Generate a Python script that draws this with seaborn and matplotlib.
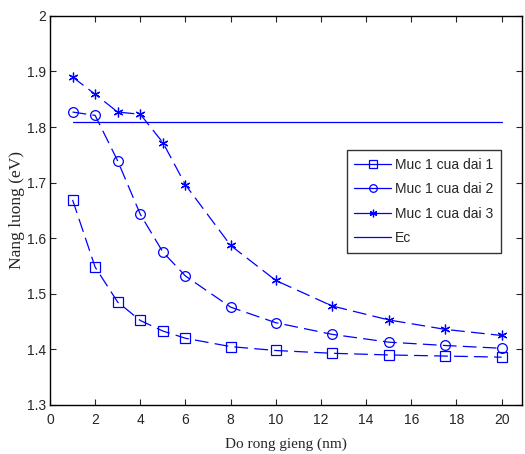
import matplotlib
matplotlib.use("Agg")
import matplotlib.pyplot as plt
import seaborn as sns
import pandas as pd
import numpy as np

# well width (nm)
width = [1, 2, 3, 4, 5, 6, 8, 10, 12.5, 15, 17.5, 20]
dai1 = [1.669, 1.548, 1.485, 1.452, 1.433, 1.420, 1.405, 1.398, 1.393, 1.390, 1.388, 1.386]
dai2 = [1.827, 1.821, 1.739, 1.643, 1.575, 1.532, 1.476, 1.448, 1.427, 1.413, 1.407, 1.402]
dai3 = [1.890, 1.859, 1.827, 1.823, 1.772, 1.696, 1.587, 1.524, 1.478, 1.453, 1.436, 1.425]
ec_x = [1, 20]
ec_y = [1.809, 1.809]
labels = ["Muc 1 cua dai 1", "Muc 1 cua dai 2", "Muc 1 cua dai 3", "Ec"]

sns.set_style("ticks")
plt.rcParams['font.family'] = ['Liberation Sans', 'DejaVu Sans']

fig = plt.figure(figsize=(5.25, 4.54), dpi=100)
ax = fig.add_axes([0.0952, 0.108, 0.899, 0.857])

blue = (0, 0, 1)
markers = ['s', 'o', (6, 2, 0)]
for ys, m, lab in zip([dai1, dai2, dai3], markers, labels[:3]):
    df = pd.DataFrame({'x': width, 'y': ys})
    sns.lineplot(data=df, x='x', y='y', ax=ax, color=blue, lw=0.9,
                 marker=m, markersize=7,
                 markerfacecolor='none', markeredgecolor=blue, markeredgewidth=0.9,
                 label=lab)
sns.lineplot(x=ec_x, y=ec_y, ax=ax, color=blue, lw=0.9, label=labels[3])

# dashed curves (MATLAB '--')
for ln in ax.lines[:3]:
    ln.set_linestyle((0, (11, 5)))

ax.set_xlim(0, 20.9)
ax.set_ylim(1.3, 2.0)
ax.set_xticks(range(0, 21, 2))
ax.set_yticks(np.round(np.arange(1.3, 2.01, 0.1), 1))
ax.set_yticklabels(['1.3', '1.4', '1.5', '1.6', '1.7', '1.8', '1.9', '2'])
ax.tick_params(direction='in', top=True, right=True, labelsize=10, length=4, width=0.8, pad=3)
ax.tick_params(axis='x', pad=6)
for s in ax.spines.values():
    s.set_linewidth(1.0)
    s.set_color('black')

ax.set_xlabel("Do rong gieng (nm)", family='Liberation Serif', fontsize=11, labelpad=7)
ax.set_ylabel("Nang luong (eV)", family='Liberation Serif', fontsize=12.5, labelpad=1)

handles, labs = ax.get_legend_handles_labels()
leg = ax.legend(handles, labs, loc='upper left', bbox_to_anchor=(0.629, 0.655),
                fontsize=10, frameon=True, fancybox=False, edgecolor='black',
                handlelength=2.6, borderpad=0.55, labelspacing=0.75, handletextpad=0.3,
                borderaxespad=0)
leg.get_frame().set_linewidth(1.0)
for h in leg.get_lines():
    h.set_linestyle('-')
    h.set_markersize(5.5)

fig.savefig("out.png", dpi=100)
